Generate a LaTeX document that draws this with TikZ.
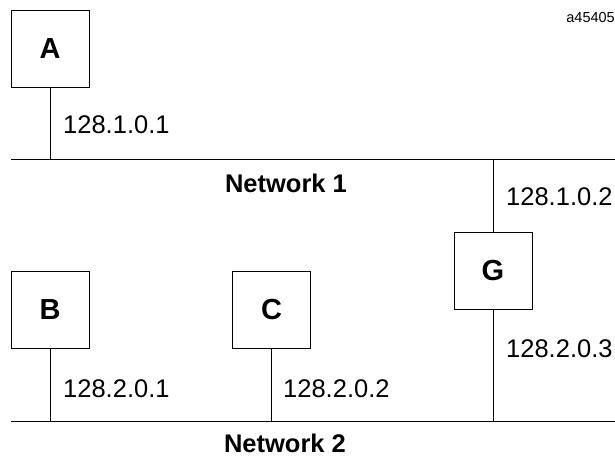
\documentclass[tikz,border=0pt]{standalone}
\usepackage{fontspec}
\setmainfont{Liberation Sans}
\begin{document}
\begin{tikzpicture}[x=1pt,y=-1pt,
  hostbox/.style={draw,line width=0.9pt,minimum width=78pt,minimum height=77pt,inner sep=0pt,
    font=\fontsize{29}{34}\selectfont\bfseries},
  netline/.style={line width=0.9pt},
  link/.style={line width=0.9pt},
  addr/.style={inner sep=0pt,anchor=base west,font=\fontsize{25.5}{30}\selectfont},
  netlabel/.style={inner sep=0pt,anchor=base,font=\fontsize{25.5}{30}\selectfont\bfseries}]
\useasboundingbox (0,0) rectangle (615,456);
% networks
\coordinate (n1w) at (11,159);
\coordinate (n1e) at (615,159);
\coordinate (n2w) at (11,421);
\coordinate (n2e) at (615,421);
\draw[netline] (n1w) -- (n1e);
\draw[netline] (n2w) -- (n2e);
% hosts
\node[hostbox] (A) at (50,48.5) {A};
\node[hostbox] (B) at (50,309.5) {B};
\node[hostbox] (C) at (271.5,310) {C};
\node[hostbox] (G) at (493,270.5) {G};
% links
\draw[link] (A.south) -- (A.south |- n1w);
\draw[link] (B.south) -- (B.south |- n2w);
\draw[link] (C.south) -- (C.south |- n2w);
\draw[link] (G.north) -- (G.north |- n1w);
\draw[link] (G.south) -- (G.south |- n2w);
% addresses
\node[addr] (a1) at (63,133) {128.1.0.1};
\node[addr] (a2) at (506,205) {128.1.0.2};
\node[addr] (a3) at (506,357) {128.2.0.3};
\node[addr] (b1) at (63,397) {128.2.0.1};
\node[addr] (c1) at (283,397) {128.2.0.2};
% network labels
\node[netlabel] (N1) at (286,192) {Network 1};
\node[netlabel] (N2) at (285,452) {Network 2};
% figure id
\node[inner sep=0pt,anchor=base east,font=\fontsize{14.5}{17}\selectfont] (id) at (615,22) {a45405};
\end{tikzpicture}
\end{document}
